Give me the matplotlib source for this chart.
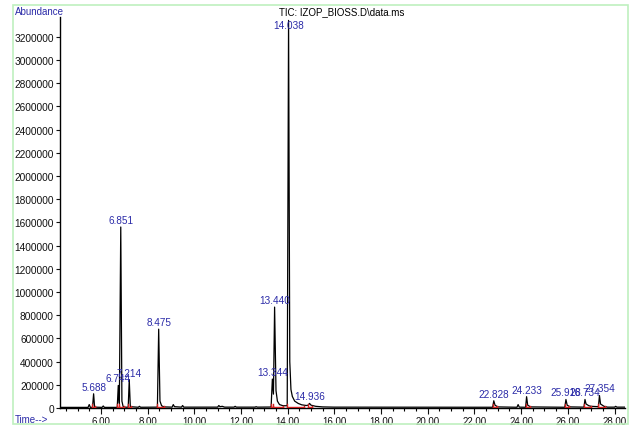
import matplotlib
matplotlib.use("Agg")
import matplotlib.pyplot as plt
from matplotlib.patches import Rectangle
from matplotlib.ticker import MultipleLocator

plt.rcParams['font.family'] = ['Liberation Sans', 'DejaVu Sans']

# chromatogram trace (time in min, abundance)
trace_time = [
    4.25, 5.45, 5.50, 5.55, 5.64, 5.688, 5.73, 6.05, 6.10, 6.15,
    6.70, 6.744, 6.79, 6.851, 6.90, 6.95, 7.00, 7.17, 7.214, 7.26,
    7.60, 7.65, 7.70, 8.42, 8.475, 8.53, 8.60, 8.70, 9.05, 9.10,
    9.15, 9.45, 9.50, 9.55, 11.00, 11.05, 11.10, 11.20, 11.30, 11.70,
    11.75, 11.80, 12.60, 12.65, 12.70, 13.29, 13.344, 13.39, 13.44, 13.50,
    13.56, 13.65, 13.80, 13.98, 14.038, 14.09, 14.14, 14.20, 14.30, 14.45,
    14.60, 14.80, 14.88, 14.936, 15.00, 15.20, 15.50, 16.00, 22.78, 22.828,
    22.88, 23.00, 23.82, 23.87, 23.92, 24.19, 24.233, 24.28, 24.40, 25.87,
    25.918, 25.97, 26.10, 26.69, 26.734, 26.78, 26.90, 27.00, 27.31, 27.354,
    27.40, 27.55, 27.70, 28.00, 28.05, 28.10, 28.45,
]
trace_abund = [
    6000, 6000, 30000, 6000, 6000, 123000, 8000, 6000, 18000, 6000,
    6000, 195000, 40000, 1560000, 60000, 15000, 8000, 7000, 245000, 12000,
    7000, 15000, 7000, 8000, 680000, 60000, 20000, 10000, 8000, 30000,
    12000, 8000, 22000, 8000, 8000, 22000, 12000, 15000, 8000, 8000,
    15000, 8000, 8000, 12000, 8000, 9000, 250000, 120000, 870000, 150000,
    60000, 30000, 20000, 20000, 3340000, 400000, 160000, 100000, 60000, 40000,
    28000, 22000, 25000, 40000, 25000, 15000, 10000, 8000, 7000, 63000,
    25000, 10000, 7000, 30000, 8000, 7000, 98000, 25000, 10000, 7000,
    74000, 25000, 10000, 8000, 74000, 35000, 20000, 15000, 12000, 108000,
    35000, 15000, 8000, 8000, 15000, 8000, 8000,
]

# labelled peaks: retention time, apex abundance
peak_time = [5.688, 6.744, 6.851, 7.214, 8.475, 13.344, 13.440, 14.038,
             14.936, 22.828, 24.233, 25.918, 26.734, 27.354]
peak_abund = [123000, 195000, 1560000, 245000, 680000, 250000, 870000,
              3340000, 40000, 63000, 98000, 74000, 74000, 108000]
peak_labels = ["5.688", "6.744", "6.851", "7.214", "8.475", "13.344",
               "13.440", "14.038", "14.936", "22.828", "24.233", "25.918",
               "26.734", "27.354"]

# integration start / end of each labelled peak
int_start = [5.64, 6.70, 6.79, 7.17, 8.42, 13.29, 13.39, 13.98, 14.86,
             22.78, 24.19, 25.87, 26.69, 27.31]
int_end = [5.74, 6.79, 6.98, 7.28, 8.70, 13.39, 13.80, 14.70, 15.05,
           22.95, 24.40, 26.05, 27.00, 27.60]

y_ticks = list(range(0, 3200001, 200000))
y_top = 3370000

fig = plt.figure(figsize=(6.32, 4.27), dpi=100)
fig.patch.set_facecolor("white")
fig.patches.append(Rectangle((0.021, 0.005), 0.972, 0.982, transform=fig.transFigure,
                             fill=False, edgecolor="#bff0bf", linewidth=1.2))

ax = fig.add_axes([0.095, 0.042, 0.894, 0.916])
ax.plot(trace_time, trace_abund, color="black", linewidth=0.9, zorder=3)

# red integration baselines and markers
for s, e in zip(int_start, int_end):
    ax.plot([s, e], [6000, 6000], color="#d02020", linewidth=1.0, zorder=4)
    ax.plot([s, s], [0, 35000], color="#d02020", linewidth=1.0, zorder=4)
    ax.plot([e, e], [0, 20000], color="#d02020", linewidth=1.0, zorder=4)

for t, a, lab in zip(peak_time, peak_abund, peak_labels):
    if a > y_top * 0.95:
        # off-scale peak: label sits just under the top of the axis
        ax.annotate(lab, (t, y_top), xytext=(0, -2), textcoords="offset points",
                    ha="center", va="top", fontsize=7.2, color="#2b2ba8",
                    annotation_clip=False, zorder=5)
    else:
        ax.annotate(lab, (t, a), xytext=(0, 1.5), textcoords="offset points",
                    ha="center", va="bottom", fontsize=7.2, color="#2b2ba8",
                    annotation_clip=False, zorder=5)

ax.set_xlim(4.25, 28.45)
ax.set_ylim(0, y_top)
ax.xaxis.set_major_locator(MultipleLocator(2))
ax.xaxis.set_minor_locator(MultipleLocator(0.5))
ax.xaxis.set_major_formatter(plt.FuncFormatter(lambda v, p: "%.2f" % v))
ax.set_yticks(y_ticks)
ax.set_yticklabels([str(v) for v in y_ticks])
ax.tick_params(axis="x", labelsize=7.0, colors="#111111", width=0.8, pad=1.5)
ax.tick_params(axis="y", labelsize=7.3, colors="#111111", width=0.8, pad=1.5)
ax.tick_params(axis="x", which="major", length=4, direction="out")
ax.tick_params(axis="x", which="minor", length=2.5, direction="out", width=0.8)
ax.tick_params(axis="y", length=3, direction="out")
for side in ["top", "right"]:
    ax.spines[side].set_visible(False)
for side in ["left", "bottom"]:
    ax.spines[side].set_linewidth(1.0)
ax.patch.set_alpha(0)

fig.text(0.024, 0.972, "Abundance", fontsize=7.0, color="#2b2ba8", ha="left", va="center")
fig.text(0.024, 0.017, "Time-->", fontsize=7.0, color="#2b2ba8", ha="left", va="center")
fig.text(0.541, 0.972, "TIC: IZOP_BIOSS.D\\data.ms", fontsize=7.0, color="black",
         ha="center", va="center")

fig.savefig("out.png", dpi=100)
